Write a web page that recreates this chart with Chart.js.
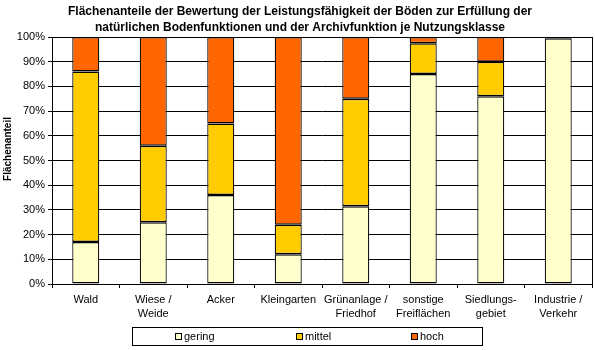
<!DOCTYPE html>
<html>
<head>
<title>Flächenanteile je Nutzungsklasse</title>
<script src="https://cdn.jsdelivr.net/npm/chart.js"></script>
<style>
body { margin: 0; background: #fff; }
#wrap { width: 595px; height: 350px; position: relative; }
</style>
</head>
<body>
<div id="wrap"><canvas id="chart"></canvas></div>
<script>
// data
const categories = [['Wald'], ['Wiese /', 'Weide'], ['Acker'], ['Kleingarten'], ['Grünanlage /', 'Friedhof'],
    ['sonstige', 'Freiflächen'], ['Siedlungs-', 'gebiet'], ['Industrie /', 'Verkehr']];
const seriesNames = ['gering', 'mittel', 'hoch'];
const gering = [17, 25, 36, 12, 31.5, 85, 76, 99.5];
const mittel = [69, 31, 29, 12, 43.5, 12.5, 14, 0.3];
const hoch = [14, 44, 35, 76, 25, 2.5, 10, 0.2];
const yTickStep = 10;
const yMax = 100;
const titleLines = ['Flächenanteile der Bewertung der Leistungsfähigkeit der Böden zur Erfüllung der',
    'natürlichen Bodenfunktionen und der Archivfunktion je Nutzungsklasse'];
const yTitle = 'Flächenanteil';

const colors = ['#FFFFCC', '#FFCC00', '#FF6600'];
const FONT = "'Liberation Sans', Arial, sans-serif";

Chart.defaults.font.family = FONT;
Chart.defaults.font.size = 11;
Chart.defaults.color = '#000';

// title, axis title, plot frame and boxed legend
const extras = {
    id: 'extras',
    afterDraw(chart) {
        const ctx = chart.ctx;
        const a = chart.chartArea;
        ctx.save();
        ctx.strokeStyle = '#000';
        ctx.lineWidth = 1;
        ctx.strokeRect(Math.round(a.left) + 0.5, Math.round(a.top) + 0.5,
            Math.round(a.right - a.left), Math.round(a.bottom - a.top));

        ctx.fillStyle = '#000';
        ctx.textAlign = 'center';
        ctx.textBaseline = 'middle';
        ctx.font = 'bold 12px ' + FONT;
        ctx.fillText(titleLines[0], 300, 12);
        ctx.fillText(titleLines[1], 300, 28);

        ctx.save();
        ctx.translate(8, 149);
        ctx.rotate(-Math.PI / 2);
        ctx.font = 'bold 10px ' + FONT;
        ctx.fillText(yTitle, 0, 0);
        ctx.restore();

        // legend
        ctx.strokeRect(132.5, 327.5, 350, 18);
        const xs = [175, 296, 411];
        ctx.font = '11px ' + FONT;
        ctx.textAlign = 'left';
        chart.data.datasets.forEach((ds, i) => {
            ctx.fillStyle = ds.backgroundColor;
            ctx.fillRect(xs[i] + 0.5, 333.5, 6, 6);
            ctx.strokeRect(xs[i] + 0.5, 333.5, 6, 6);
            ctx.fillStyle = '#000';
            ctx.fillText(ds.label, xs[i] + 9, 337);
        });
        ctx.restore();
    }
};

new Chart(document.getElementById('chart'), {
    type: 'bar',
    data: {
        labels: categories,
        datasets: [gering, mittel, hoch].map((d, i) => ({
            label: seriesNames[i],
            data: d,
            backgroundColor: colors[i],
            borderColor: '#000',
            borderWidth: { top: 1.5, bottom: 1.5, left: 1.2, right: 1.2 },
            borderSkipped: false,
            barPercentage: 0.4,
            categoryPercentage: 1
        }))
    },
    options: {
        responsive: true,
        maintainAspectRatio: false,
        animation: false,
        layout: { padding: { top: 37, right: 3, left: 0, bottom: 0 } },
        plugins: { legend: { display: false }, tooltip: { enabled: false } },
        scales: {
            x: {
                stacked: true,
                offset: true,
                grid: { drawOnChartArea: false, color: '#000', tickLength: 4, offset: true },
                border: { color: '#000' },
                ticks: { maxRotation: 0, autoSkip: false, padding: 5, font: { size: 11, lineHeight: 1.3 } },
                afterFit: s => { s.height = 66; }
            },
            y: {
                stacked: true,
                min: 0,
                max: yMax,
                grid: { color: '#000', tickLength: 4 },
                border: { color: '#000' },
                ticks: { stepSize: yTickStep, padding: 3, callback: v => v + '%' },
                afterFit: s => { s.width = 52; }
            }
        }
    },
    plugins: [extras]
});
</script>
</body>
</html>
